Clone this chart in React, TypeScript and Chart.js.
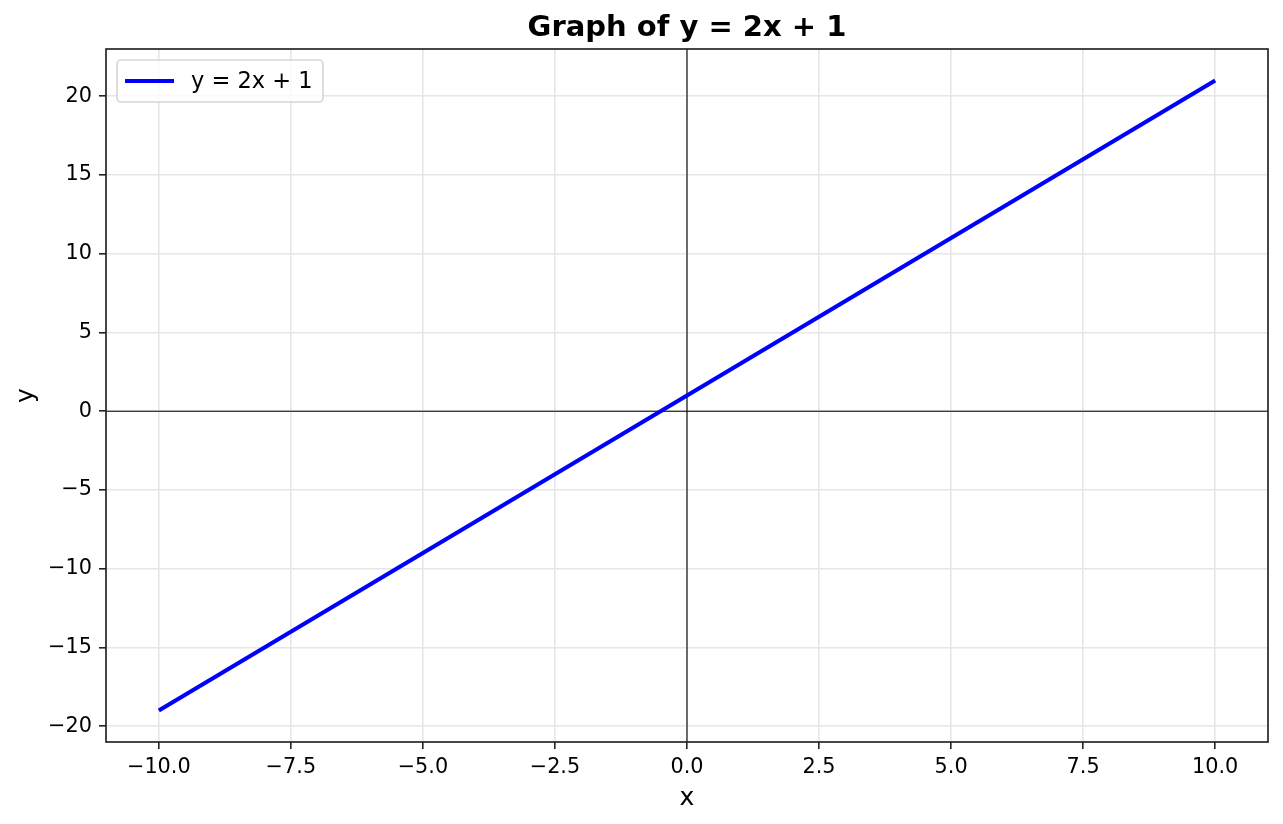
import React, { useEffect, useRef } from "react";
import { Chart, registerables } from "chart.js";

Chart.register(...registerables);

// ---- Data ----
const xValues = [-10, -5, 0, 5, 10];
const yValues = [-19, -9, 1, 11, 21];
const xTicks = [-10, -7.5, -5, -2.5, 0, 2.5, 5, 7.5, 10];
const yTicks = [-20, -15, -10, -5, 0, 5, 10, 15, 20];
const xRange = [-11, 11];
const yRange = [-21, 23];
const seriesLabel = "y = 2x + 1";
const titleText = "Graph of y = 2x + 1";
const xLabel = "x";
const yLabel = "y";

const FONT = "'DejaVu Sans', 'Liberation Sans', sans-serif";
const W = 1283;
const H = 824;

const fmt = (v: number, dec: number) =>
  (v < 0 ? "\u2212" : "") + Math.abs(v).toFixed(dec);

const decorPlugin = {
  id: "decor",
  beforeDatasetsDraw(chart: any) {
    const { ctx, chartArea: a, scales } = chart;
    const x0 = scales.x.getPixelForValue(0);
    const y0 = scales.y.getPixelForValue(0);
    ctx.save();
    ctx.strokeStyle = "#000";
    ctx.lineWidth = 1.1;
    ctx.beginPath();
    ctx.moveTo(a.left, y0);
    ctx.lineTo(a.right, y0);
    ctx.moveTo(x0, a.top);
    ctx.lineTo(x0, a.bottom);
    ctx.stroke();
    ctx.restore();
  },
  afterDraw(chart: any) {
    const { ctx, chartArea: a } = chart;
    ctx.save();
    // spines
    ctx.strokeStyle = "#222";
    ctx.lineWidth = 1.67;
    ctx.strokeRect(a.left, a.top, a.right - a.left, a.bottom - a.top);

    // title
    ctx.fillStyle = "#000";
    ctx.font = `bold 29px ${FONT}`;
    ctx.textAlign = "center";
    ctx.textBaseline = "alphabetic";
    ctx.fillText(titleText, (a.left + a.right) / 2, 36);

    // x label
    ctx.font = `25px ${FONT}`;
    ctx.fillText(xLabel, (a.left + a.right) / 2, 804.5);

    // y label
    ctx.save();
    ctx.translate(33, (a.top + a.bottom) / 2);
    ctx.rotate(-Math.PI / 2);
    ctx.textAlign = "center";
    ctx.textBaseline = "alphabetic";
    ctx.fillText(yLabel, 0, 0);
    ctx.restore();

    // legend
    const lx = 117, ly = 60, lw = 206, lh = 42, r = 4;
    ctx.beginPath();
    ctx.moveTo(lx + r, ly);
    ctx.lineTo(lx + lw - r, ly);
    ctx.arcTo(lx + lw, ly, lx + lw, ly + r, r);
    ctx.lineTo(lx + lw, ly + lh - r);
    ctx.arcTo(lx + lw, ly + lh, lx + lw - r, ly + lh, r);
    ctx.lineTo(lx + r, ly + lh);
    ctx.arcTo(lx, ly + lh, lx, ly + lh - r, r);
    ctx.lineTo(lx, ly + r);
    ctx.arcTo(lx, ly, lx + r, ly, r);
    ctx.closePath();
    ctx.fillStyle = "rgba(255,255,255,0.8)";
    ctx.fill();
    ctx.strokeStyle = "#d6d6d6";
    ctx.lineWidth = 1.6;
    ctx.stroke();

    ctx.strokeStyle = "#0000ff";
    ctx.lineWidth = 4.17;
    ctx.beginPath();
    ctx.moveTo(125, 81);
    ctx.lineTo(174, 81);
    ctx.stroke();

    ctx.fillStyle = "#000";
    ctx.font = `22.5px ${FONT}`;
    ctx.textAlign = "left";
    ctx.textBaseline = "alphabetic";
    ctx.fillText(seriesLabel, 191, 88);
    ctx.restore();
  },
};

export default function App() {
  const ref = useRef<HTMLCanvasElement | null>(null);

  useEffect(() => {
    if (!ref.current) return;
    const chart = new Chart(ref.current, {
      type: "line",
      data: {
        datasets: [
          {
            label: seriesLabel,
            data: xValues.map((x, i) => ({ x, y: yValues[i] })),
            borderColor: "#0000ff",
            backgroundColor: "#0000ff",
            borderWidth: 4.17,
            pointRadius: 0,
            tension: 0,
            fill: false,
          },
        ],
      },
      options: {
        responsive: false,
        animation: false,
        devicePixelRatio: 1,
        layout: { padding: { top: 49, right: 15, left: 0, bottom: 0 } },
        plugins: {
          legend: { display: false },
          title: { display: false },
          tooltip: { enabled: false },
        },
        scales: {
          x: {
            type: "linear",
            min: xRange[0],
            max: xRange[1],
            afterBuildTicks: (s: any) => {
              s.ticks = xTicks.map((v) => ({ value: v }));
            },
            afterFit: (s: any) => {
              s.height = H - 742;
            },
            grid: {
              color: "#e6e6e6",
              lineWidth: 1.6,
              drawTicks: true,
              tickLength: 7,
              tickColor: "#222",
              tickWidth: 1.6,
            },
            border: { display: false },
            ticks: {
              color: "#000",
              padding: 6,
              maxRotation: 0,
              autoSkip: false,
              font: { family: FONT, size: 20.8 },
              callback: (v: any) => fmt(Number(v), 1),
            },
          },
          y: {
            type: "linear",
            min: yRange[0],
            max: yRange[1],
            afterBuildTicks: (s: any) => {
              s.ticks = yTicks.map((v) => ({ value: v }));
            },
            afterFit: (s: any) => {
              s.width = 106;
            },
            grid: {
              color: "#e6e6e6",
              lineWidth: 1.6,
              drawTicks: true,
              tickLength: 7,
              tickColor: "#222",
              tickWidth: 1.6,
            },
            border: { display: false },
            ticks: {
              color: "#000",
              padding: 7,
              autoSkip: false,
              font: { family: FONT, size: 20.8 },
              callback: (v: any) => fmt(Number(v), 0),
            },
          },
        },
      },
      plugins: [decorPlugin],
    } as any);
    return () => chart.destroy();
  }, []);

  return (
    <div
      style={{
        position: "absolute",
        left: 0,
        top: 0,
        width: W,
        height: H,
        background: "#fff",
      }}
    >
      <canvas ref={ref} width={W} height={H} style={{ display: "block" }} />
    </div>
  );
}
